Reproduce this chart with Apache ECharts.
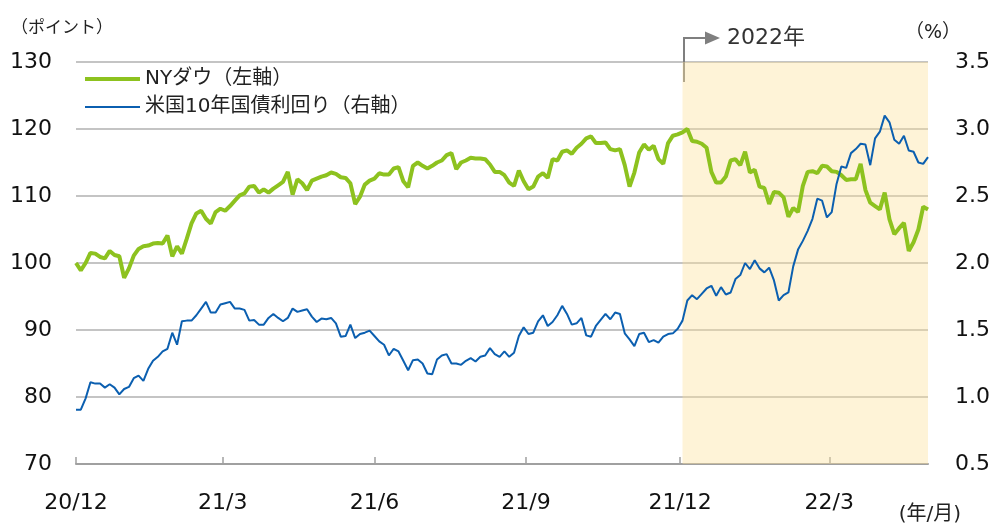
<!DOCTYPE html>
<html>
<head>
<meta charset="utf-8">
<script src="https://cdn.jsdelivr.net/npm/echarts@6/dist/echarts.min.js"></script>
<style>
  html, body { margin: 0; padding: 0; background: #fff; }
  #chart { width: 994px; height: 527px; }
</style>
</head>
<body>
<div id="chart"></div>
<script>
// 1点 = 2営業日 (2020/12/31 → 2022/5末)
var STEP = 2;
var SHADE_START = 252;   // 2022年の始まり（営業日）

var tickDays = [0, 61, 124, 187, 251, 313];
var tickLabels = ['20/12', '21/3', '21/6', '21/9', '21/12', '22/3'];

// NYダウ（2020年末=100）
var dowValues = [
  100.0, 98.9, 100.0, 101.5, 101.4, 100.9, 100.7, 101.8, 101.2, 101.0,
  97.8, 99.2, 101.1, 102.1, 102.5, 102.6, 102.9, 103.0, 102.9, 104.1,
  101.0, 102.5, 101.4, 103.6, 105.9, 107.4, 107.8, 106.6, 105.9, 107.6,
  108.1, 107.8, 108.5, 109.3, 110.1, 110.4, 111.4, 111.5, 110.5, 111.0,
  110.5, 111.1, 111.6, 112.1, 113.6, 110.2, 112.5, 111.9, 110.9, 112.3,
  112.6, 112.9, 113.1, 113.5, 113.3, 112.8, 112.7, 111.9, 108.8, 109.9,
  111.7, 112.3, 112.6, 113.4, 113.2, 113.2, 114.1, 114.3, 112.2, 111.3,
  114.5, 115.0, 114.5, 114.1, 114.5, 115.0, 115.3, 116.1, 116.4, 114.0,
  115.0, 115.3, 115.7, 115.6, 115.6, 115.5, 114.7, 113.6, 113.6, 113.1,
  112.0, 111.5, 113.8, 112.2, 111.0, 111.4, 112.9, 113.4, 112.7, 115.5,
  115.3, 116.6, 116.8, 116.3, 117.2, 117.8, 118.6, 118.9, 117.9, 117.9,
  118.0, 117.0, 116.8, 117.0, 114.6, 111.4, 113.5, 116.5, 117.7, 116.9,
  117.5, 115.5, 114.8, 117.9, 119.0, 119.2, 119.5, 120.0, 118.2, 118.1,
  117.8, 117.2, 113.6, 112.0, 112.0, 112.9, 115.3, 115.5, 114.6, 116.6,
  113.5, 113.9, 111.4, 111.2, 108.8, 110.6, 110.5, 109.8, 106.9, 108.2,
  107.6, 111.5, 113.6, 113.7, 113.4, 114.5, 114.4, 113.7, 113.6, 113.1,
  112.4, 112.5, 112.5, 114.8, 110.9, 109.0, 108.5, 108.0, 110.5, 106.5,
  104.3, 105.2, 106.0, 101.8, 103.1, 105.0, 108.4, 108.0
];

// 米国10年国債利回り（%）
var yieldValues = [
  0.905, 0.905, 0.99, 1.11, 1.10, 1.10, 1.07, 1.095, 1.07, 1.02,
  1.06, 1.075, 1.14, 1.16, 1.12, 1.21, 1.27, 1.30, 1.34, 1.36,
  1.48, 1.39, 1.565, 1.57, 1.57, 1.61, 1.66, 1.71, 1.63, 1.63,
  1.69, 1.70, 1.71, 1.66, 1.66, 1.65, 1.57, 1.575, 1.54, 1.54,
  1.59, 1.62, 1.59, 1.565, 1.59, 1.66, 1.635, 1.645, 1.655, 1.60,
  1.56, 1.585, 1.58, 1.59, 1.55, 1.45, 1.455, 1.54, 1.44, 1.47,
  1.48, 1.495, 1.455, 1.415, 1.39, 1.31, 1.36, 1.34, 1.27, 1.20,
  1.275, 1.28, 1.25, 1.175, 1.17, 1.28, 1.31, 1.32, 1.25, 1.25,
  1.24, 1.27, 1.29, 1.265, 1.30, 1.31, 1.365, 1.32, 1.30, 1.34,
  1.30, 1.33, 1.455, 1.52, 1.47, 1.48, 1.565, 1.61, 1.53, 1.56,
  1.61, 1.68, 1.62, 1.54, 1.55, 1.59, 1.46, 1.45, 1.53, 1.575,
  1.62, 1.58, 1.63, 1.62, 1.475, 1.43, 1.38, 1.47, 1.48, 1.41,
  1.425, 1.405, 1.45, 1.47, 1.475, 1.51, 1.57, 1.72, 1.76, 1.73,
  1.77, 1.81, 1.83, 1.755, 1.82, 1.765, 1.78, 1.88, 1.91, 2.00,
  1.955, 2.02, 1.96, 1.93, 1.965, 1.87, 1.72, 1.76, 1.78, 1.975,
  2.10, 2.165, 2.24, 2.33, 2.48, 2.465, 2.34, 2.38, 2.59, 2.72,
  2.71, 2.82, 2.85, 2.89, 2.885, 2.73, 2.93, 2.98, 3.10, 3.05,
  2.92, 2.89, 2.95, 2.84, 2.83, 2.75, 2.74, 2.79
];

var FONT = "'DejaVu Sans', 'Noto Sans CJK JP', sans-serif";
var lastDay = (dowValues.length - 1) * STEP;

function toPairs(arr) {
  return arr.map(function (v, i) { return [i * STEP, v]; });
}

var chart = echarts.init(document.getElementById('chart'));

var option = {
  animation: false,
  backgroundColor: '#fff',
  grid: { left: 76, right: 66, top: 62, bottom: 63 },
  legend: {
    orient: 'vertical',
    left: 85,
    top: 69,
    padding: 0,
    itemWidth: 55,
    itemHeight: 14,
    itemGap: 8,
    textStyle: { fontFamily: FONT, fontSize: 20, color: '#222' },
    data: [
      { name: 'NYダウ（左軸）', icon: 'path://M0 0H55V4H0Z' },
      { name: '米国10年国債利回り（右軸）', icon: 'path://M0 0H52V2H0Z' }
    ]
  },
  xAxis: {
    type: 'value',
    min: 0,
    max: lastDay,
    axisLine: { show: true, lineStyle: { color: '#a0a0a0', width: 2 } },
    axisTick: { show: true, inside: true, length: 7, customValues: tickDays, lineStyle: { color: '#a0a0a0', width: 1.5 } },
    axisLabel: {
      customValues: tickDays,
      margin: 28,
      fontFamily: FONT, fontSize: 22, color: '#111',
      formatter: function (v) { return tickLabels[tickDays.indexOf(v)]; }
    },
    splitLine: { show: false }
  },
  yAxis: [
    {
      type: 'value', min: 70, max: 130, interval: 10,
      axisLine: { show: false }, axisTick: { show: false },
      axisLabel: { margin: 24, fontFamily: FONT, fontSize: 22, color: '#111' },
      splitLine: { lineStyle: { color: '#c4c4c4', width: 2 } }
    },
    {
      type: 'value', min: 0.5, max: 3.5, interval: 0.5,
      axisLine: { show: false }, axisTick: { show: false },
      axisLabel: {
        margin: 27, fontFamily: FONT, fontSize: 22, color: '#111',
        formatter: function (v) { return v.toFixed(1); }
      },
      splitLine: { show: false }
    }
  ],
  series: [
    {
      name: 'NYダウ（左軸）',
      type: 'line',
      yAxisIndex: 0,
      symbol: 'none',
      lineStyle: { color: '#8dc21f', width: 4 },
      itemStyle: { color: '#8dc21f' },
      data: toPairs(dowValues),
      markArea: {
        silent: true,
        itemStyle: { color: 'rgba(252, 226, 155, 0.4)' },
        data: [[{ xAxis: SHADE_START }, { xAxis: lastDay }]]
      }
    },
    {
      name: '米国10年国債利回り（右軸）',
      type: 'line',
      yAxisIndex: 1,
      symbol: 'none',
      lineStyle: { color: '#0b5fb0', width: 2 },
      itemStyle: { color: '#0b5fb0' },
      data: toPairs(yieldValues)
    }
  ]
};

chart.setOption(option);

// 2022年の矢印と単位ラベル
var p = chart.convertToPixel({ gridIndex: 0 }, [SHADE_START, 130]);
var ax = Math.round(p[0]) + 1;
var ay = 38;
chart.setOption({
  graphic: [
    { type: 'polyline', shape: { points: [[ax, p[1] + 20], [ax, ay], [ax + 22, ay]] },
      style: { stroke: '#7f7f7f', lineWidth: 2, fill: null } },
    { type: 'polygon', shape: { points: [[ax + 21, ay - 6.5], [ax + 36, ay], [ax + 21, ay + 6.5]] },
      style: { fill: '#7f7f7f' } },
    { type: 'text', x: ax + 43, y: ay, style: { text: '2022年', font: '22px ' + FONT, fill: '#333', textVerticalAlign: 'middle' } },
    { type: 'text', x: 62, y: 29, style: { text: '（ポイント）', font: '17px ' + FONT, fill: '#222', textAlign: 'center', textVerticalAlign: 'middle' } },
    { type: 'text', x: 933, y: 33, style: { text: '（%）', font: '19px ' + FONT, fill: '#222', textAlign: 'center', textVerticalAlign: 'middle' } },
    { type: 'text', x: 961, y: 515, style: { text: '(年/月)', font: '20px ' + FONT, fill: '#222', textAlign: 'right', textVerticalAlign: 'middle' } }
  ]
});
</script>
</body>
</html>
